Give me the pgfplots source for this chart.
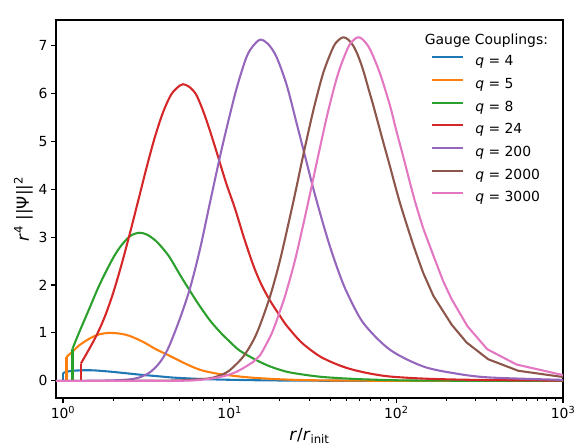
\documentclass[border=0pt]{standalone}
\usepackage{pgfplots}
\pgfplotsset{compat=1.18}
\usepackage{fontspec}
\setmainfont{DejaVu Sans}
\definecolor{c0}{HTML}{1F77B4}
\definecolor{c1}{HTML}{FF7F0E}
\definecolor{c2}{HTML}{2CA02C}
\definecolor{c3}{HTML}{D62728}
\definecolor{c4}{HTML}{9467BD}
\definecolor{c5}{HTML}{8C564B}
\definecolor{c6}{HTML}{E377C2}
\begin{document}
\begin{tikzpicture}
\path[use as bounding box] (-56pt,-48pt) rectangle (524pt,398pt);
\begin{axis}[
  at={(0,0)}, anchor=south west,
  scale only axis, width=507pt, height=378pt,
  xmode=log, xmin=0.908, xmax=1000,
  ymin=-0.358, ymax=7.53,
  xtick={1,10,100,1000},
  xticklabels={10\textsuperscript{0},10\textsuperscript{1},10\textsuperscript{2},10\textsuperscript{3}},
  ytick={0,1,2,3,4,5,6,7},
  yticklabels={0,1,2,3,4,5,6,7},
  tick align=outside,
  xtick pos=bottom, ytick pos=left,
  major tick length=4.9pt, minor tick length=2.8pt,
  major tick style={line width=1.1pt, black},
  minor tick style={line width=0.83pt, black},
  axis line style={line width=1.1pt, black},
  ticklabel style={font=\fontsize{13.9}{16}\selectfont},
  xlabel={\textit{r}/\textit{r}\textsubscript{init}},
  ylabel={\textit{r}\textsuperscript{4} ||Ψ||\textsuperscript{2}},
  label style={font=\fontsize{16.7}{20}\selectfont},
  xlabel style={at={(axis description cs:0.5,-0.079)}, anchor=north, inner sep=0pt},
  ylabel style={at={(axis description cs:-0.0454,0.5)}, anchor=south, rotate=0, inner sep=0pt},
  every axis plot/.append style={line width=2.08pt, line join=round},
  legend image code/.code={\draw[#1] (0pt,5pt) -- (31pt,5pt);},
  legend cell align=left,
  legend style={draw=none, fill=none, at={(rel axis cs:0.7400,0.9114)}, anchor=north west,
    inner sep=0pt, outer sep=0pt, row sep=5.2pt, column sep=9pt,
    font=\fontsize{13.9}{16}\selectfont,
    nodes={inner sep=2pt, text height=10.2pt, text depth=3.3pt}},
]
% q = 4
\addplot[c0, forget plot] coordinates {(0.908,0) (1.0,0) (1.0,0.16)};
\addplot[c0, smooth, tension=0.5] coordinates {
(1.0,0.16) (1.05,0.19) (1.15,0.21) (1.31,0.22) (1.5,0.22) (1.81,0.20)
(2.3,0.165) (2.87,0.13) (3.6,0.10) (4.5,0.07) (5.7,0.05) (7.2,0.035) (10,0.022)
(15,0.012) (25,0.005) (50,0.001) (100,0) (1000,0)};
\addlegendentry{\textit{q} = 4}
% q = 5
\addplot[c1, forget plot] coordinates {(0.908,0) (1.05,0) (1.05,0.50)};
\addplot[c1, smooth, tension=0.5] coordinates {
(1.05,0.50) (1.15,0.62) (1.25,0.74) (1.44,0.88) (1.65,0.97) (1.90,1.0)
(2.2,0.985) (2.5,0.94) (3.0,0.82) (3.61,0.66) (4.38,0.52) (5.2,0.39) (6.0,0.29) (6.95,0.21)
(8.75,0.14) (11.5,0.09) (13.8,0.065) (18,0.04) (25,0.02) (40,0.008) (100,0.001) (1000,0)};
\addlegendentry{\textit{q} = 5}
% q = 8
\addplot[c2, forget plot] coordinates {(0.908,0) (1.14,0) (1.14,0.67)};
\addplot[c2, smooth, tension=0.5] coordinates {
(1.14,0.67) (1.25,1.01) (1.44,1.51) (1.62,1.93) (1.81,2.28) (2.05,2.63)
(2.28,2.86) (2.55,3.03) (2.87,3.09) (3.2,3.05) (3.61,2.92) (4.0,2.75) (4.38,2.57) (5.1,2.18)
(5.75,1.89) (6.5,1.60) (7.62,1.26) (8.75,1.02) (10,0.82) (11.5,0.63) (14.5,0.43) (17.5,0.30)
(22,0.19) (27.7,0.13) (35,0.085) (43.8,0.06) (60,0.035) (100,0.012) (200,0.003) (1000,0)};
\addlegendentry{\textit{q} = 8}
% q = 24
\addplot[c3, forget plot] coordinates {(0.908,0) (1.28,0) (1.28,0.36)};
\addplot[c3, smooth, tension=0.5] coordinates {
(1.28,0.36) (1.413,0.62) (1.585,0.94) (1.778,1.33) (1.995,1.82) (2.239,2.41)
(2.512,3.06) (2.818,3.74) (3.162,4.43) (3.548,5.07) (3.981,5.60) (4.467,5.98) (5.012,6.16) (5.25,6.19)
(5.7,6.14) (6.28,5.98) (6.9,5.65) (7.55,5.26) (8.36,4.77) (9.5,4.14) (10.8,3.58) (12.2,2.98)
(13.9,2.40) (15.5,2.01) (17.5,1.67) (20,1.36) (22,1.15) (27,0.80) (34.8,0.51) (45,0.33)
(55.2,0.23) (70,0.15) (91.5,0.09) (150,0.045) (300,0.02) (1000,0.005)};
\addlegendentry{\textit{q} = 24}
% q = 200
\addplot[c4, smooth, tension=0.5] coordinates {
(0.908,0) (1.3,0) (2.0,0.01) (2.5,0.03) (2.87,0.07) (3.3,0.17) (3.7,0.33) (4.0,0.49)
(4.38,0.76) (5.03,1.30) (5.78,1.93) (6.64,2.75) (7.62,3.72) (8.75,4.68) (9.6,5.28) (11.0,6.10)
(12.6,6.75) (13.9,7.0) (15.3,7.12) (17,7.03) (19.1,6.76) (22.0,6.17) (25.2,5.38) (29.0,4.55)
(32,3.97) (36,3.33) (40,2.80) (45,2.28) (50.3,1.86) (63.3,1.21) (91.5,0.65) (145,0.30) (230,0.15)
(364,0.07) (1000,0.02)};
\addlegendentry{\textit{q} = 200}
% q = 2000
\addplot[c5, smooth, tension=0.5] coordinates {
(0.908,0) (3,0.002) (5,0.01) (7,0.04) (8,0.07) (9.15,0.14) (10,0.22) (11.5,0.42)
(12.5,0.58) (13.9,0.85) (15.2,1.16) (17.5,1.77) (20,2.50) (23,3.42) (25.2,4.05) (27.6,4.70)
(31.7,5.63) (36.4,6.42) (41.8,6.96) (45,7.11) (48.1,7.17) (51.5,7.12) (55.2,6.99) (59,6.78)
(63.3,6.48) (68,6.10) (72.7,5.75) (83.5,4.98) (91.5,4.48) (105,3.72) (126,2.85) (145,2.25)};
\addlegendentry{\textit{q} = 2000}
\addplot[c5, forget plot] coordinates {
(145,2.25) (167,1.77) (215,1.17) (264,0.80) (356,0.45) (539,0.21) (1000,0.08)};
% q = 3000
\addplot[c6, smooth, tension=0.5] coordinates {
(0.908,0) (3,0.001) (6,0.008) (8.75,0.08) (11,0.19) (13.9,0.40) (15.2,0.53) (17.5,0.92)
(18.7,1.16) (20,1.45) (21.5,1.77) (24.6,2.50) (28.3,3.42) (31,4.05) (34,4.70) (39,5.63)
(44.8,6.42) (51.4,6.96) (55.3,7.11) (59.1,7.17) (63,7.12) (69.5,6.92) (79.7,6.42) (91.5,5.75)
(100,5.22) (110,4.68) (120,4.17) (130,3.72) (145,3.18)};
\addlegendentry{\textit{q} = 3000}
\addplot[c6, forget plot] coordinates {
(145,3.18) (167,2.61) (191,2.08) (215,1.70) (267,1.14) (351,0.66) (527,0.34) (1000,0.12)};
\node[font=\fontsize{13.9}{16}\selectfont, anchor=base, inner sep=0pt] at (rel axis cs:0.849,0.9339) {Gauge Couplings:};
\node[font=\fontsize{13.9}{16}\selectfont, anchor=base west, inner sep=0pt] at (rel axis cs:0,1) [yshift=5pt, xshift=1pt] {1e7};
\end{axis}
\end{tikzpicture}
\end{document}
